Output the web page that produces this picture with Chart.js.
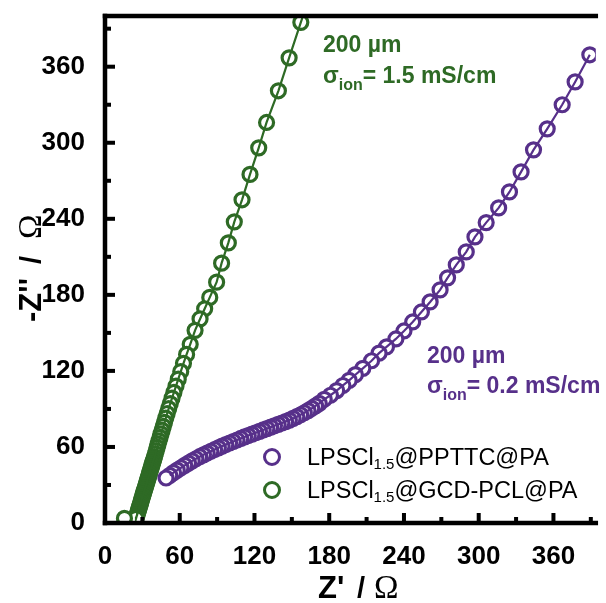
<!DOCTYPE html>
<html>
<head>
<meta charset="utf-8">
<script src="https://cdn.jsdelivr.net/npm/chart.js@4.4.1/dist/chart.umd.min.js"></script>
<style>
  html, body { margin: 0; padding: 0; background: #fff; overflow: hidden; }
</style>
</head>
<body>
<canvas id="nyquistChart" width="606" height="603"></canvas>
<script>
// EIS data, listed low frequency -> high frequency (last point drawn on top)
const purpleX = [389.2, 377.4, 367, 355, 344, 334, 324.7, 316, 306, 297, 290, 282, 275, 269, 261, 254, 247, 240, 233.5, 226, 220, 214, 207, 201, 196, 191, 186, 181, 176,
  172, 169, 166, 163, 160, 157, 154, 151, 148, 145, 142, 139, 136, 133, 130, 127, 124, 121, 118, 115, 112, 109, 106, 103, 100,
  97, 94, 91, 88, 85, 82, 79, 76, 73, 70, 67, 64, 61, 58, 55, 52, 49];
const purpleY = [369.4, 348, 330, 311, 294.4, 277, 261.2, 248.6, 237, 225.7, 213.9, 203.6, 193.4, 183.9, 174.4, 166.5, 158.6, 151.5, 145.2, 139, 134, 128, 122, 117, 112.5, 108.5, 104.5, 100.8, 97.6,
  94.4, 92.4, 90.5, 88.7, 87, 85.4, 83.9, 82.5, 81.2, 80, 78.9, 77.8, 76.7, 75.6, 74.5, 73.4, 72.3, 71.2, 70.1, 69, 67.9, 66.7, 65.5, 64.3, 63.1,
  61.9, 60.6, 59.3, 58, 56.6, 55.2, 53.8, 52.3, 50.7, 49, 47.3, 45.5, 43.6, 41.7, 39.7, 37.6, 35.5];

const greenX = [157.2, 147.8, 139.2, 129.7, 123.4, 116.4, 110, 103.8, 99, 93.6, 89.6, 84.1, 80, 76.3, 72.3, 68.4, 65.5, 63, 60.8, 58.8,
  57, 55.3, 53.8, 52.4, 51.1, 49.9, 48.8, 47.8, 46.8, 45.9, 45, 44.2, 43.4, 42.6, 41.9, 41.2, 40.5, 39.8,
  39.3, 38.8, 38.3, 37.8, 37.3, 36.8, 36.3, 35.8, 35.3, 34.8, 34.3, 33.8, 33.3, 32.8, 32.3, 31.8, 31.3, 30.8, 30.3, 29.8,
  29.3, 28.8, 28.3, 27.8, 27.3, 26.8, 26.3, 25.8, 25.3, 24.9, 15.6];
const greenY = [395, 367, 341, 316, 296, 275, 255, 237.6, 221, 205, 190, 178, 169, 161, 152, 141, 133, 126, 119.5, 113.5,
  108, 103, 98.5, 94.2, 90.2, 86.4, 82.8, 79.4, 76.2, 73.2, 70.3, 67.5, 64.8, 62.2, 59.7, 57.2, 54.8, 52.4,
  50.8, 49.1, 47.5, 45.9, 44.2, 42.6, 41, 39.3, 37.7, 36, 34.4, 32.8, 31.1, 29.5, 27.9, 26.2, 24.6, 23, 21.3, 19.7,
  18.1, 16.4, 14.8, 13.2, 11.5, 9.9, 8.3, 6.6, 5, 3.7, 3.7];

// fitted curves run through the measured points (green one reaches the top frame)
const greenFitTop = { x: 159.6, y: 402 };

const xTicks = [0, 60, 120, 180, 240, 300, 360];
const yTicks = [0, 60, 120, 180, 240, 300, 360];
const xMinor = [30, 90, 150, 210, 270, 330, 390];
const yMinor = [30, 90, 150, 210, 270, 330, 390];

const purple = "#57308a";
const green = "#2e6a25";
const fontFam = "'Liberation Sans', Arial, sans-serif";

const toPts = (xs, ys) => xs.map((x, i) => ({ x: x, y: ys[i] }));

const purpleFit = toPts(purpleX.slice(0, -1), purpleY.slice(0, -1));
const greenFit = [greenFitTop].concat(toPts(greenX.slice(0, -1), greenY.slice(0, -1)));

const frame = {
  id: "frame",
  afterDraw(chart) {
    const c = chart.ctx;
    const a = chart.chartArea;
    const xs = chart.scales.x;
    const ys = chart.scales.y;
    const w = 4.5;
    c.save();
    c.fillStyle = "#000";
    // frame: top, left, bottom (right edge lies outside the picture)
    c.fillRect(a.left - w / 2, a.top - w / 2, a.right - a.left + w, w);
    c.fillRect(a.left - w / 2, a.top - w / 2, w, a.bottom - a.top + w);
    c.fillRect(a.left - w / 2, a.bottom - w / 2, a.right - a.left + w, w);
    // inward ticks
    const t = 4;
    xTicks.forEach(v => { const p = xs.getPixelForValue(v); c.fillRect(p - t / 2, a.bottom - 10, t, 10); });
    xMinor.forEach(v => { const p = xs.getPixelForValue(v); c.fillRect(p - t / 2, a.bottom - 6, t, 6); });
    yTicks.forEach(v => { const p = ys.getPixelForValue(v); c.fillRect(a.left, p - t / 2, 10, t); });
    yMinor.forEach(v => { const p = ys.getPixelForValue(v); c.fillRect(a.left, p - t / 2, 6, t); });
    c.restore();

    c.save();
    c.textBaseline = "alphabetic";
    c.textAlign = "left";

    // text made of pieces: [text, font, dy]
    const run = (x, y, parts, color) => {
      c.fillStyle = color;
      parts.forEach(p => {
        c.font = p[1];
        c.fillText(p[0], x, y + (p[2] || 0));
        x += c.measureText(p[0]).width;
      });
      return x;
    };

    // axis titles
    const bigB = "bold 31px " + fontFam;
    const slash = "bold 29px " + fontFam;
    const omega = "33px 'Liberation Serif', serif";
    c.fillStyle = "#000";
    c.font = bigB; c.fillText("Z'", 318, 598);
    c.font = slash; c.fillText("/", 357, 598);
    c.font = omega; c.fillText("\u03A9", 374, 598);

    c.save();
    c.translate(41, 322);
    c.rotate(-Math.PI / 2);
    c.font = bigB; c.fillText("-Z''", 0, 0);
    c.font = slash; c.fillText("/", 58, 0);
    c.font = omega; c.fillText("\u03A9", 83, 0);
    c.restore();

    // annotations
    const ann = "bold 23px " + fontFam;
    const sub = "bold 16px " + fontFam;
    run(323, 52, [["200 \u00B5m", ann]], green);
    run(323, 83, [["\u03C3", ann], ["ion", sub, 7], ["= 1.5 mS/cm", ann]], green);
    run(427, 363, [["200 \u00B5m", ann]], purple);
    run(427, 393, [["\u03C3", ann], ["ion", sub, 7], ["= 0.2 mS/cm", ann]], purple);

    // legend
    const lf = "23.5px " + fontFam;
    const ls = "15px " + fontFam;
    const rows = [
      [purple, 457, "@PPTTC@PA"],
      [green, 490, "@GCD-PCL@PA"]
    ];
    rows.forEach(r => {
      c.beginPath();
      c.arc(272, r[1], 7.5, 0, Math.PI * 2);
      c.fillStyle = "#fff";
      c.fill();
      c.lineWidth = 3;
      c.strokeStyle = r[0];
      c.stroke();
      run(307, r[1] + 8, [["LPSCl", lf], ["1.5", ls, 4], [r[2], lf]], "#000");
    });
    c.restore();
  }
};

const ctx = document.getElementById("nyquistChart").getContext("2d");
const nyquistChart = new Chart(ctx, {
  type: "scatter",
  data: {
    datasets: [
      {
        label: "LPSCl1.5@PPTTC@PA fit",
        data: purpleFit,
        showLine: true,
        borderColor: purple,
        borderWidth: 2.2,
        pointRadius: 0,
        order: 0,
      },
      {
        label: "LPSCl1.5@GCD-PCL@PA fit",
        data: greenFit,
        showLine: true,
        borderColor: green,
        borderWidth: 2.2,
        pointRadius: 0,
        order: 1,
      },
      {
        label: "LPSCl1.5@PPTTC@PA",
        data: toPts(purpleX, purpleY),
        pointRadius: 7,
        pointBorderWidth: 3.2,
        pointBorderColor: purple,
        pointBackgroundColor: "#fff",
        order: 2,
      },
      {
        label: "LPSCl1.5@GCD-PCL@PA",
        data: toPts(greenX, greenY),
        pointRadius: 7,
        pointBorderWidth: 3.2,
        pointBorderColor: green,
        pointBackgroundColor: "#fff",
        order: 3,
      },
    ],
  },
  options: {
    responsive: false,
    animation: false,
    events: [],
    layout: { padding: { top: 16, right: 0, left: 0, bottom: 0 } },
    plugins: {
      legend: { display: false },
      tooltip: { enabled: false },
    },
    scales: {
      x: {
        type: "linear",
        min: 0,
        max: 394,
        grid: { display: false },
        border: { display: false },
        afterBuildTicks: s => { s.ticks = xTicks.map(v => ({ value: v })); },
        afterFit: s => { s.height = 80; s.paddingLeft = 0; s.paddingRight = 0; },
        ticks: {
          color: "#000",
          padding: 10,
          maxRotation: 0,
          font: { family: fontFam, size: 26, weight: "bold" },
        },
      },
      y: {
        type: "linear",
        min: 0,
        max: 400,
        grid: { display: false },
        border: { display: false },
        afterBuildTicks: s => { s.ticks = yTicks.map(v => ({ value: v })); },
        afterFit: s => { s.width = 105; s.paddingTop = 0; s.paddingBottom = 0; },
        ticks: {
          color: "#000",
          padding: 12,
          font: { family: fontFam, size: 26, weight: "bold" },
        },
      },
    },
  },
  plugins: [frame],
});
</script>
</body>
</html>
